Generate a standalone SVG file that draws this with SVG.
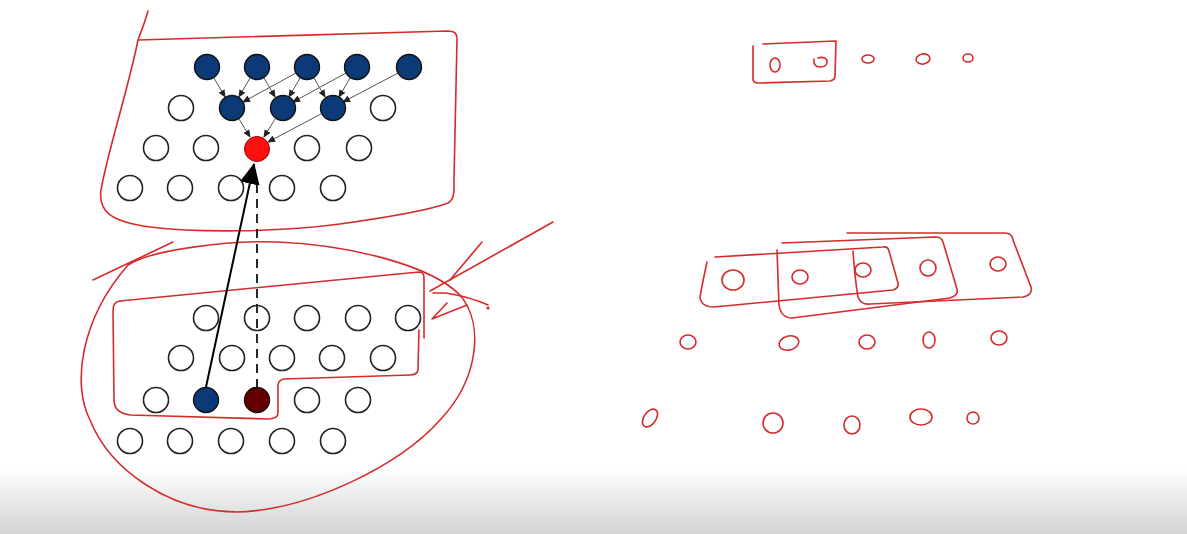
<svg xmlns="http://www.w3.org/2000/svg" width="1187" height="534" viewBox="0 0 1187 534">
<defs>
<linearGradient id="fade" x1="0" y1="0" x2="0" y2="1">
<stop offset="0" stop-color="#ffffff"/>
<stop offset="1" stop-color="#d3d3d3"/>
</linearGradient>
<marker id="sm" markerUnits="userSpaceOnUse" markerWidth="8" markerHeight="7" refX="7" refY="3.5" orient="auto">
<path d="M0,0 L8,3.5 L0,7 z" fill="#222"/>
</marker>
<marker id="big" markerUnits="userSpaceOnUse" markerWidth="22" markerHeight="20" refX="20" refY="10" orient="auto">
<path d="M0,0 L21,10 L0,20 z" fill="#000"/>
</marker>
</defs>
<style>
.w{fill:#fff;stroke:#222;stroke-width:1.6}
.b{fill:#0c3a76;stroke:#111;stroke-width:1.4}
.r{fill:#ff1010;stroke:#900;stroke-width:1}
.d{fill:#640000;stroke:#111;stroke-width:1.4}
.ink{fill:none;stroke:#d52b2b;stroke-width:1.6;stroke-linecap:round;stroke-linejoin:round}
.thin{stroke:#555;stroke-width:1;fill:none}
</style>
<rect width="1187" height="534" fill="#fff"/>
<rect x="0" y="468" width="1187" height="66" fill="url(#fade)"/>

<g id="annotations" class="ink">
<path d="M148,11 C145,22 141,32 138,40 C128,90 108,150 101,190 C98,212 112,222 150,227 C200,233 280,232 340,224 C390,217 430,210 448,203 C455,199 454,190 454,180 L457,40 C457,33 455,31 447,31 L138,40"/>
<path d="M128,265 C150,250 230,240 277,242 C350,245 430,265 460,295 C485,325 478,380 440,420 C400,465 310,510 237,512 C170,512 110,470 90,420 C72,385 80,320 128,265"/>
<path d="M93,280 L173,242"/>
<path d="M120,301 C200,293 350,279 419,272 Q424,272 424,278 L424,338"/>
<path d="M419,330 L418,370 Q417,375 410,375 L284,379 Q278,380 278,386 L278,413 Q278,419 268,419 L130,415 Q114,413 114,400 L113,310 Q113,302 120,301"/>
<path d="M553,222 L430,291"/>
<path d="M482,242 L450,280"/>
<path d="M433,293 L446,293 Q470,297 488,305"/>
<circle cx="488" cy="308" r="0.8" fill="#d52b2b"/>
<path d="M447,303 L432,319 L467,305"/>
<path d="M753,46 L753,80 Q754,83 758,83 L830,81 Q835,80 835,76 L836,41 L763,44"/>
<path d="M707,262 Q703,280 700,297 Q701,307 714,307 L893,290 Q899,288 898,283 L889,251 Q888,246 883,247 L715,257"/>
<path d="M777,250 L779,305 Q781,318 792,318 L950,298 Q959,295 957,289 L943,242 Q942,237 935,237 L782,243"/>
<path d="M853,251 Q855,280 858,297 Q861,305 870,304 L1023,297 Q1033,295 1031,287 L1013,240 Q1012,233 1005,233 L847,233"/>
</g>

<g class="ink">
<g id="s1"><ellipse cx="775" cy="65" rx="5" ry="7"/></g>
<g id="s2"><path d="M814,59 Q813,67 820,67 Q828,67 827,60 Q824,56 818,58"/></g>
<g id="s3"><ellipse cx="868" cy="59" rx="6" ry="4"/></g>
<g id="s4"><ellipse cx="923" cy="59" rx="7" ry="5" transform="rotate(-10 923 59)"/></g>
<g id="s5"><ellipse cx="968" cy="58" rx="5" ry="4"/></g>
<g id="m1"><ellipse cx="733" cy="280" rx="11" ry="10"/></g>
<g id="m2"><ellipse cx="800" cy="277" rx="8" ry="7"/></g>
<g id="m3"><ellipse cx="863" cy="270" rx="8" ry="7"/></g>
<g id="m4"><ellipse cx="928" cy="268" rx="8" ry="8"/></g>
<g id="m5"><ellipse cx="998" cy="264" rx="8" ry="7"/></g>
<g id="p1"><ellipse cx="688" cy="342" rx="8" ry="7"/></g>
<g id="p2"><ellipse cx="789" cy="343" rx="10" ry="7" transform="rotate(-15 789 343)"/></g>
<g id="p3"><ellipse cx="867" cy="342" rx="8" ry="7"/></g>
<g id="p4"><ellipse cx="929" cy="340" rx="6" ry="8"/></g>
<g id="p5"><ellipse cx="999" cy="338" rx="8" ry="7"/></g>
<g id="q1"><ellipse cx="650" cy="418" rx="6" ry="10" transform="rotate(35 650 418)"/></g>
<g id="q2"><ellipse cx="773" cy="423" rx="10" ry="10"/></g>
<g id="q3"><ellipse cx="852" cy="425" rx="8" ry="9"/></g>
<g id="q4"><ellipse cx="921" cy="417" rx="11" ry="8"/></g>
<g id="q5"><ellipse cx="973" cy="418" rx="6" ry="6"/></g>
</g>

<g id="connectors">
<g class="thin" marker-end="url(#sm)">
<line x1="214" y1="78" x2="225" y2="97"/>
<line x1="250" y1="78" x2="239" y2="97"/>
<line x1="296" y1="73" x2="243" y2="102"/>
<line x1="264" y1="78" x2="275" y2="97"/>
<line x1="300" y1="78" x2="289" y2="97"/>
<line x1="346" y1="73" x2="293" y2="102"/>
<line x1="314" y1="78" x2="325" y2="97"/>
<line x1="350" y1="78" x2="339" y2="97"/>
<line x1="398" y1="73" x2="343" y2="102"/>
<line x1="239" y1="119" x2="250" y2="137"/>
<line x1="275" y1="119" x2="264" y2="137"/>
<line x1="321" y1="114" x2="268" y2="142"/>
</g>
<line x1="257" y1="388" x2="257" y2="184" stroke="#111" stroke-width="1.8" stroke-dasharray="9,6"/>
<line x1="206" y1="387" x2="254" y2="164" stroke="#000" stroke-width="2" marker-end="url(#big)"/>
</g>

<g id="t1"><circle class="b" cx="207" cy="67" r="12.5"/></g>
<g id="t2"><circle class="b" cx="257" cy="67" r="12.5"/></g>
<g id="t3"><circle class="b" cx="307" cy="67" r="12.5"/></g>
<g id="t4"><circle class="b" cx="357" cy="67" r="12.5"/></g>
<g id="t5"><circle class="b" cx="409" cy="67" r="12.5"/></g>
<g id="t6"><circle class="w" cx="181" cy="108" r="12.5"/></g>
<g id="t7"><circle class="b" cx="232" cy="108" r="12.5"/></g>
<g id="t8"><circle class="b" cx="283" cy="108" r="12.5"/></g>
<g id="t9"><circle class="b" cx="333" cy="108" r="12.5"/></g>
<g id="t10"><circle class="w" cx="383" cy="108" r="12.5"/></g>
<g id="t11"><circle class="w" cx="156" cy="148" r="12.5"/></g>
<g id="t12"><circle class="w" cx="206" cy="148" r="12.5"/></g>
<g id="t13"><circle class="r" cx="257" cy="149" r="12.5"/></g>
<g id="t14"><circle class="w" cx="307" cy="148" r="12.5"/></g>
<g id="t15"><circle class="w" cx="359" cy="148" r="12.5"/></g>
<g id="t16"><circle class="w" cx="130" cy="188" r="12.5"/></g>
<g id="t17"><circle class="w" cx="180" cy="188" r="12.5"/></g>
<g id="t18"><circle class="w" cx="231" cy="188" r="12.5"/></g>
<g id="t19"><circle class="w" cx="282" cy="188" r="12.5"/></g>
<g id="t20"><circle class="w" cx="333" cy="188" r="12.5"/></g>

<g id="b1"><circle class="w" cx="206" cy="318" r="12.5"/></g>
<g id="b2"><circle class="w" cx="257" cy="318" r="12.5" fill-opacity="0"/></g>
<g id="b3"><circle class="w" cx="307" cy="318" r="12.5"/></g>
<g id="b4"><circle class="w" cx="358" cy="318" r="12.5"/></g>
<g id="b5"><circle class="w" cx="408" cy="318" r="12.5"/></g>
<g id="b6"><circle class="w" cx="181" cy="358" r="12.5"/></g>
<g id="b7"><circle class="w" cx="232" cy="358" r="12.5"/></g>
<g id="b8"><circle class="w" cx="282" cy="358" r="12.5"/></g>
<g id="b9"><circle class="w" cx="332" cy="358" r="12.5"/></g>
<g id="b10"><circle class="w" cx="383" cy="358" r="12.5"/></g>
<g id="b11"><circle class="w" cx="156" cy="400" r="12.5"/></g>
<g id="b12"><circle class="b" cx="206" cy="400" r="12.5"/></g>
<g id="b13"><circle class="d" cx="257" cy="400" r="12.5"/></g>
<g id="b14"><circle class="w" cx="307" cy="400" r="12.5"/></g>
<g id="b15"><circle class="w" cx="358" cy="400" r="12.5"/></g>
<g id="b16"><circle class="w" cx="130" cy="441" r="12.5"/></g>
<g id="b17"><circle class="w" cx="180" cy="441" r="12.5"/></g>
<g id="b18"><circle class="w" cx="231" cy="441" r="12.5"/></g>
<g id="b19"><circle class="w" cx="282" cy="441" r="12.5"/></g>
<g id="b20"><circle class="w" cx="333" cy="441" r="12.5"/></g>
</svg>
